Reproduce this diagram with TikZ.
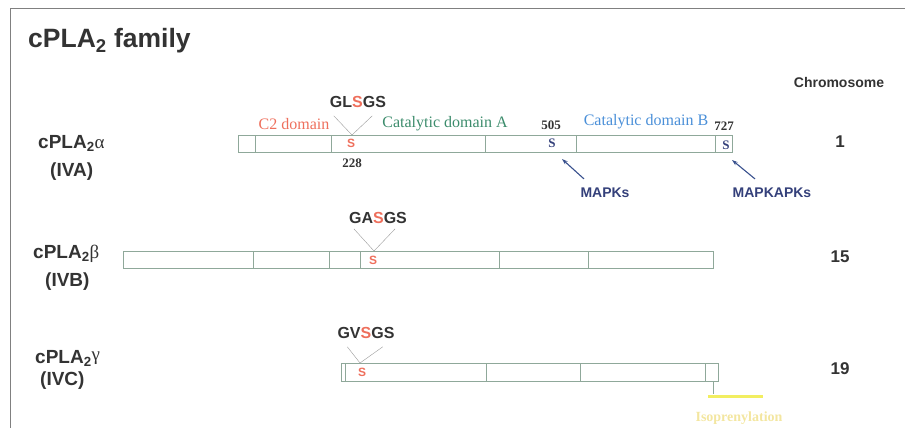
\documentclass[tikz,border=0pt]{standalone}
\usepackage{fontspec}
\setmainfont{Liberation Serif}
\setsansfont{Liberation Sans}
\usepackage{tikz}
\usetikzlibrary{arrows.meta, calc}
\definecolor{mDark}{HTML}{333333}
\definecolor{mRed}{HTML}{EE6F5C}
\definecolor{mGreen}{HTML}{3C8C6C}
\definecolor{mBlue}{HTML}{4A8FD8}
\definecolor{mNavy}{HTML}{34407A}
\definecolor{mLine}{HTML}{8FA89A}
\definecolor{mGray}{HTML}{9A9A9A}
\definecolor{mYellow}{HTML}{F2EE60}
\definecolor{mPale}{HTML}{F3E6A0}
\newcommand{\grk}[1]{{\rmfamily\mdseries #1}}

\begin{document}
\begin{tikzpicture}[x=1pt, y=-1pt,
  lbl/.style={font=\sffamily\bfseries\fontsize{19}{21}\selectfont, text=mDark, anchor=base west, inner sep=0pt},
  chr/.style={font=\sffamily\bfseries\fontsize{17}{19}\selectfont, text=mDark, inner sep=0pt},
  motif/.style={font=\sffamily\bfseries\fontsize{16}{18}\selectfont, text=mDark, inner sep=0pt},
  dom/.style={font=\fontsize{16}{18}\selectfont, inner sep=0pt},
  num/.style={font=\bfseries\fontsize{13}{14}\selectfont, text=mDark, inner sep=0pt},
  ser/.style={font=\sffamily\bfseries\fontsize{12}{13}\selectfont, text=mRed, inner sep=0pt},
  pser/.style={font=\bfseries\fontsize{13}{14}\selectfont, text=mNavy, inner sep=0pt},
  kin/.style={font=\sffamily\bfseries\fontsize{14}{16}\selectfont, text=mNavy, inner sep=0pt},
  seg/.style={draw=mLine, line width=0.7pt},
  vee/.style={draw=mGray, line width=0.4pt},
  karr/.style={draw=mNavy!80!mBlue, line width=1.1pt, -{Stealth[length=6pt, width=4pt]}},
]
  \useasboundingbox (0,0) rectangle (905,428);
  \draw[gray, line width=0.8pt] (905,8) -- (10,8) -- (10,428);

  % title and column head
  \node[lbl, font=\sffamily\bfseries\fontsize{26.5}{28}\selectfont] (title) at (28,48) {cPLA\textsubscript{2} family};
  \node[kin, text=mDark, font=\sffamily\bfseries\fontsize{14}{16}\selectfont] (chrom) at (839,82) {Chromosome};

  % cPLA2 alpha (IVA)
  \node[lbl] (alpha) at (38,148) {cPLA\textsubscript{2}\grk{α}};
  \node[lbl] (alphaiv) at (50,176) {(IVA)};
  \draw[seg] (238,135) rectangle (732,152);
  \foreach \x in {255,331,485,576,715}
    \draw[seg] (\x,135) -- (\x,152);
  \node[dom, text=mRed] (c2) at (294,124) {C2 domain};
  \node[dom, text=mGreen] (cata) at (445,124) {Catalytic domain A};
  \node[dom, text=mBlue] (catb) at (646,122) {Catalytic domain B};
  \node[motif] (glsgs) at (358,102) {GL{\color{mRed}S}GS};
  \node[ser] (s228) at (351,143) {S};
  \node[num] (n228) at (352,163) {228};
  \node[pser] (s505) at (552,143) {S};
  \node[num] (n505) at (551,125) {505};
  \node[pser] (s727) at (726,145) {S};
  \node[num] (n727) at (724,126) {727};
  \coordinate (v228) at (352,135);
  \draw[vee] ($(glsgs.south west)+(4,8)$) -- (v228) -- ($(glsgs.south east)+(-14,8)$);
  \node[kin] (mapk) at (605,193) {MAPKs};
  \node[kin] (mapkapk) at (772,193) {MAPKAPKs};
  \draw[karr] ($(mapk.north)+(-21,-9)$) -- ($(s505)+(10,16)$);
  \draw[karr] ($(mapkapk.north)+(-17,-9)$) -- ($(s727)+(6,15)$);
  \node[chr] (chr1) at (840,142) {1};

  % cPLA2 beta (IVB)
  \node[lbl] (beta) at (33,258) {cPLA\textsubscript{2}\grk{β}};
  \node[lbl] (betaiv) at (45,286) {(IVB)};
  \draw[seg] (123,251) rectangle (713,268);
  \foreach \x in {253,329,360,499,588}
    \draw[seg] (\x,251) -- (\x,268);
  \node[motif] (gasgs) at (378,218) {GA{\color{mRed}S}GS};
  \node[ser] (s2) at (373,260) {S};
  \coordinate (v2) at (374,251);
  \draw[vee] ($(gasgs.south west)+(5,5)$) -- (v2) -- ($(gasgs.south east)+(-12,5)$);
  \node[chr] (chr15) at (840,257) {15};

  % cPLA2 gamma (IVC)
  \node[lbl] (gamma) at (35,363) {cPLA\textsubscript{2}\raisebox{3pt}{\grk{γ}}};
  \node[lbl] (gammaiv) at (40,385) {(IVC)};
  \draw[seg] (341,363) rectangle (718,381);
  \foreach \x in {345,486,580,705}
    \draw[seg] (\x,363) -- (\x,381);
  \node[motif] (gvsgs) at (366,333) {GV{\color{mRed}S}GS};
  \node[ser] (s3) at (362,372) {S};
  \coordinate (v3) at (360,363);
  \draw[vee] ($(gvsgs.south west)+(10,8)$) -- (v3) -- ($(gvsgs.south east)+(-12,8)$);
  \node[chr] (chr19) at (840,369) {19};

  % isoprenylation
  \coordinate (cterm) at (713,381);
  \coordinate (bar) at (713,394);
  \draw[seg, line width=0.5pt] (cterm) -- (bar);
  \draw[mYellow, line width=3pt] (708,396) -- (763,396);
  \node[num, text=mPale, font=\bfseries\fontsize{14}{15}\selectfont] (isop) at (739,418) {Isoprenylation};
\end{tikzpicture}
\end{document}
